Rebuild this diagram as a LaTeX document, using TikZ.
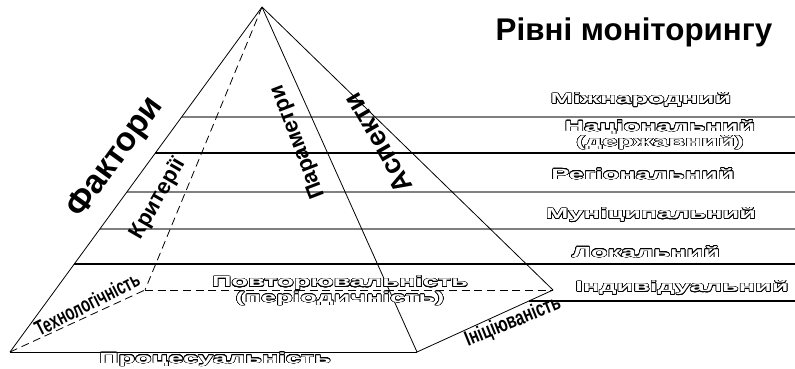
\documentclass[tikz,border=0pt]{standalone}
\usepackage{fontspec}
\setmainfont{Liberation Sans}
\usepackage{contour}
\usepackage{graphicx}
\usetikzlibrary{calc}
\contourlength{0.25pt}
\contournumber{24}
\definecolor{lineGray}{HTML}{808080}
\newcommand{\hollow}[1]{\scalebox{1.85}[1]{\contour{black}{\textcolor{white}{\bfseries #1}}}}
\newcommand{\narrow}[1]{\scalebox{0.68}[1]{#1}}
\tikzset{
  edgeS/.style={black, line width=0.6pt},
  edgeD/.style={black, line width=0.6pt, dash pattern=on 6pt off 3.5pt},
  levelG/.style={lineGray, line width=1.1pt},
  levelK/.style={black, line width=0.8pt},
  lvlText/.style={font=\fontsize{11}{10.5}\selectfont, align=center, inner sep=0pt},
  sideText/.style={font=\bfseries\fontsize{16.5}{18}\selectfont, inner sep=0pt},
  baseText/.style={font=\bfseries\fontsize{16}{18}\selectfont, inner sep=0pt},
}
\begin{document}
\begin{tikzpicture}[x=0.75pt, y=-0.75pt]
    \useasboundingbox (0,0) rectangle (795,368);
    % pyramid corners
    \coordinate (top) at (262,7);
    \coordinate (fl) at (10,352);
    \coordinate (fr) at (417,352);
    \coordinate (br) at (553,290);
    \coordinate (bl) at (145,290);
    \coordinate (rim) at (795,0);
    % level lines
    \foreach \t/\s [count=\i] in {0.3188/levelG, 0.4232/levelK, 0.5362/levelG,
                                  0.6435/levelG, 0.7449/levelK} {
      \coordinate (l\i) at ($(top)!\t!(fl)$);
      \draw[\s] (l\i) -- (l\i -| rim);
    }
    \coordinate (l6) at ($(br)!0.177!(fr)$);
    \draw[levelK] (l6) -- (l6 -| rim);
    % edges
    \draw[edgeD] (top) -- (bl);
    \draw[edgeD] (fl) -- (bl);
    \draw[edgeD] (bl) -- (br);
    \draw[edgeS] (top) -- (fl);
    \draw[edgeS] (top) -- (fr);
    \draw[edgeS] (top) -- (br);
    \draw[edgeS] (fl) -- (fr);
    \draw[edgeS] (fr) -- (br);
    % title and levels
    \node[font=\bfseries\fontsize{23.5}{25}\selectfont, inner sep=0pt] (title) at (634,32) {Рівні моніторингу};
    \node[lvlText] (mizh) at (641,100) {\hollow{Міжнародний}};
    \node[lvlText] (nats) at (660,135) {\hollow{Національний}\\\hollow{(державний)}};
    \node[lvlText] (reg) at (643,174) {\hollow{Регіональний}};
    \node[lvlText] (mun) at (651,215) {\hollow{Муніципальний}};
    \node[lvlText] (lok) at (646,252) {\hollow{Локальний}};
    \node[lvlText] (ind) at (682,288) {\hollow{Індивідуальний}};
    % faces
    \node[font=\fontsize{11}{12}\selectfont, inner sep=0pt, anchor=base] (proc) at (215,363) {\hollow{Процесуальність}};
    \node[lvlText] (povt) at (340,291) {\hollow{Повторювальність}\\\hollow{(періодичність)}};
    \node[sideText, font=\bfseries\fontsize{25}{27}\selectfont, rotate=54] (fakt) at (116,158) {Фактори};
    \node[sideText, rotate=60] (krit) at (158,199) {Критерії};
    \node[sideText, rotate=111] (param) at (298,142) {Параметри};
    \node[sideText, font=\bfseries\fontsize{20.5}{22}\selectfont, rotate=120] (asp) at (378,143) {Аспекти};
    \node[baseText, rotate=27] (tekh) at (87,304) {\narrow{Технологічність}};
    \node[baseText, rotate=22] (init) at (513,322) {\scalebox{0.72}[1]{Ініціюваність}};
\end{tikzpicture}
\end{document}
